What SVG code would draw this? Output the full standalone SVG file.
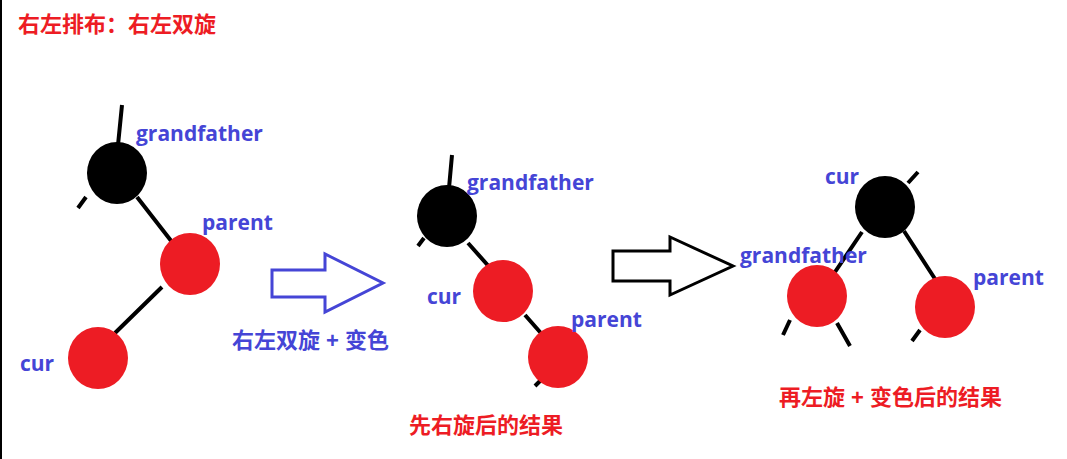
<svg xmlns="http://www.w3.org/2000/svg" width="1067" height="459" viewBox="0 0 1067 459">
<style>
.b{fill:#000}.r{fill:#ed1c24}.e{stroke:#000;stroke-width:4;fill:none}
.l{font-family:"Open Sans","Liberation Sans",sans-serif;font-weight:bold;font-size:21px;fill:#4545d6}
.c{font-family:"Liberation Sans","Noto Sans CJK SC",sans-serif;font-weight:bold;font-size:22px}
</style>
<rect width="1067" height="459" fill="#fff"/>
<line x1="1" y1="0" x2="1" y2="459" stroke="#000" stroke-width="2"/>
<text class="c" x="18" y="32" fill="#ed1c24">右左排布：右左双旋</text>
<g id="connectors">
<path class="e" d="M122 105L118 145M86 197L78 208M137 197L172 242M162 287L115 333"/>
<path class="e" d="M452 155L449 188M424 238L418 246M468 243L492 270M525 315L547 340M543 378L535 386"/>
<path class="e" d="M908 183L918 172M862 232L835 272M904 231L937 282M790 320L783 335M837 323L850 346M920 330L912 341"/>
</g>
<g id="left-gf"><ellipse class="b" cx="117" cy="173" rx="30" ry="31"/><text class="l" x="136" y="141">grandfather</text></g>
<g id="left-parent"><ellipse class="r" cx="190" cy="264" rx="30" ry="31"/><text class="l" x="202" y="230">parent</text></g>
<g id="left-cur"><ellipse class="r" cx="98" cy="358" rx="30" ry="31"/><text class="l" x="20" y="371">cur</text></g>
<g id="arrow1"><path d="M272 270H325V254L383 283L325 312V297H272Z" fill="none" stroke="#4545d6" stroke-width="3"/><text class="c" x="232" y="348" fill="#4545d6" xml:space="preserve">右左双旋 + 变色</text></g>
<g id="mid-gf"><ellipse class="b" cx="447" cy="216" rx="30" ry="31"/><text class="l" x="467" y="190">grandfather</text></g>
<g id="mid-cur"><ellipse class="r" cx="503" cy="291" rx="30" ry="31"/><text class="l" x="427" y="304">cur</text></g>
<g id="mid-parent"><ellipse class="r" cx="558" cy="357" rx="30" ry="31"/><text class="l" x="571" y="327">parent</text></g>
<text class="c" x="409" y="433" fill="#ed1c24">先右旋后的结果</text>
<g id="arrow2"><path d="M613 251H670V237L733 266L670 295V281H613Z" fill="none" stroke="#000" stroke-width="3"/></g>
<g id="right-cur"><ellipse class="b" cx="885" cy="207" rx="30" ry="31"/><text class="l" x="825" y="184">cur</text></g>
<g id="right-gf"><ellipse class="r" cx="817" cy="296" rx="30" ry="31"/><text class="l" x="740" y="263">grandfather</text></g>
<g id="right-parent"><ellipse class="r" cx="945" cy="307" rx="30" ry="31"/><text class="l" x="973" y="285">parent</text></g>
<text class="c" x="779" y="405" fill="#ed1c24">再左旋 + 变色后的结果</text>
</svg>
